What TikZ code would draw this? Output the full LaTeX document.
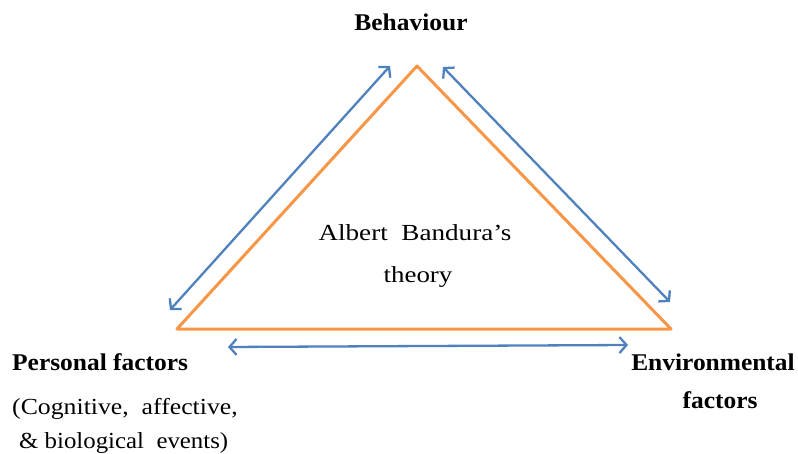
\documentclass[tikz,border=0pt]{standalone}
\usepackage{fontspec}
\setmainfont{Liberation Serif}
\usepackage{graphicx}
\usetikzlibrary{arrows.meta}
\definecolor{triorange}{HTML}{F79646}
\definecolor{linkblue}{HTML}{4F81BD}
\newcommand{\wideby}[2]{\scalebox{#1}[1]{#2}}
\tikzset{
  triangle/.style={draw=triorange, line width=3pt, line join=round},
  link/.style={draw=linkblue, line width=2.3pt,
    {Straight Barb[length=7pt,width=16pt]}-{Straight Barb[length=7pt,width=16pt]}},
  heading/.style={font=\fontsize{24}{28}\selectfont\bfseries, inner sep=0pt},
  body/.style={font=\fontsize{23}{27}\selectfont, inner sep=0pt},
}
\begin{document}
\begin{tikzpicture}[x=1pt,y=1pt]
\useasboundingbox (0,0) rectangle (798,453);
% triangle corners
\coordinate (top) at (417,387);
\coordinate (left) at (177,124);
\coordinate (right) at (671,124);
\draw[triangle] (top) -- (left) -- (right) -- cycle;
% ends of the two-way links
\coordinate (lt) at (390,387);
\coordinate (lb) at (170,143);
\coordinate (rt) at (443,386);
\coordinate (rb) at (670,151);
\coordinate (bl) at (228,106);
\coordinate (br) at (628,108);
\draw[link] (lt) -- (lb);
\draw[link] (rt) -- (rb);
\draw[link] (bl) -- (br);
% labels
\node[heading, anchor=base] (beh) at (411,422) {\wideby{1.06}{Behaviour}};
\node[heading, anchor=base west] (pers) at (12,83) {\wideby{1.06}{Personal factors}};
\node[body, anchor=base west] (pers2) at (12,39) {\wideby{1.12}{(Cognitive,\ \ affective,}};
\node[body, anchor=base west] (pers3) at (19,5) {\wideby{1.08}{\& biological\ \ events)}};
\node[heading, anchor=base] (env) at (713,83) {\wideby{1.06}{Environmental}};
\node[heading, anchor=base] (env2) at (720,45) {\wideby{1.06}{factors}};
\node[body, anchor=base] (theory1) at (415,212) {\wideby{1.18}{Albert\ \ Bandura’s}};
\node[body, anchor=base] (theory2) at (418,171) {\wideby{1.17}{theory}};
\end{tikzpicture}
\end{document}
